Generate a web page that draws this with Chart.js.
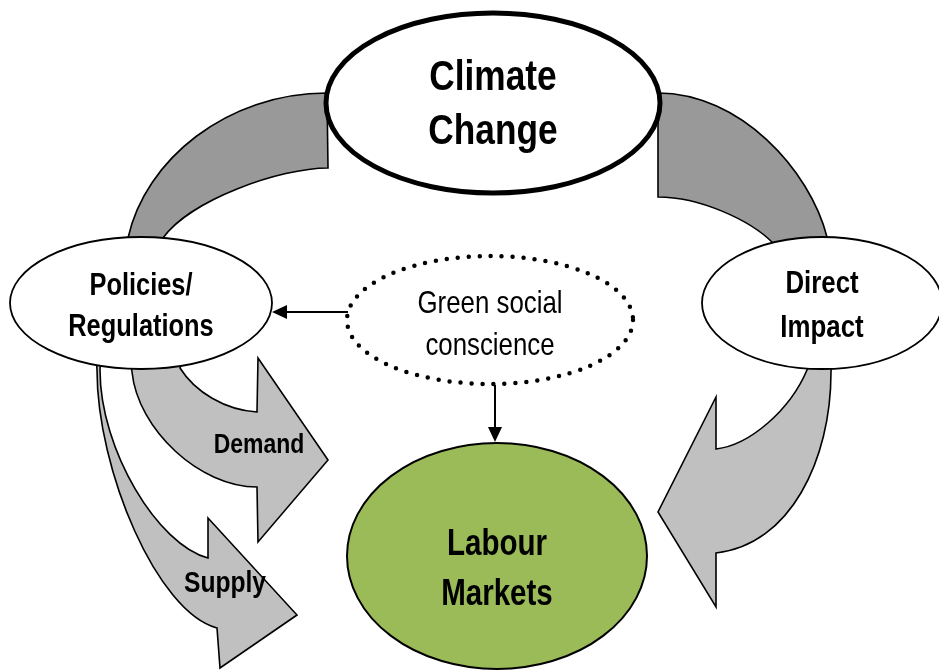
<!DOCTYPE html>
<html>
<head>
<meta charset="utf-8">
<title>Climate change and labour markets</title>
<script src="https://cdn.jsdelivr.net/npm/chart.js@4/dist/chart.umd.min.js"></script>
<style>
  html, body { margin: 0; padding: 0; background: #ffffff; }
  #diagram { display: block; }
</style>
</head>
<body>
<canvas id="diagram" width="939" height="670"></canvas>
<script>
// nodes of the diagram (centres in data units, the scales run 0..939 / 0..670)
const nodeLabels = [
  ['Climate', 'Change'],
  ['Policies/', 'Regulations'],
  ['Green social', 'conscience'],
  ['Direct', 'Impact'],
  ['Labour', 'Markets']
];
const nodeX = [493, 141, 490, 822, 497];
const nodeY = [103, 303, 320, 303, 556];
const flowLabels = ['Demand', 'Supply'];

const NARROW = "'Liberation Sans Narrow', 'Arial Narrow', 'Liberation Sans', Arial, sans-serif";

// look of each node
const nodeStyle = [
  { rx: 167, ry: 90, fill: '#ffffff', line: 5, dash: null, bold: true, size: 43, lines: [90, 144] },
  { rx: 131, ry: 66, fill: '#ffffff', line: 1.8, dash: null, bold: true, size: 31, lines: [295, 336] },
  { rx: 143, ry: 64, fill: '#ffffff', line: 4.5, dash: [0, 11], bold: false, size: 31.5, lines: [313, 355] },
  { rx: 120, ry: 66, fill: '#ffffff', line: 1.8, dash: null, bold: true, size: 31.5, lines: [293, 337] },
  { rx: 150, ry: 113, fill: '#9bbb59', line: 2, dash: null, bold: true, size: 36, lines: [555, 605] }
];

// block arrows, outlined in data units
const bandPaths = [
  { fill: '#999999', d: [
    ['M', 327, 93], ['C', 227, 93, 145, 160, 128, 238], ['L', 124, 256], ['L', 166, 256],
    ['L', 163, 238], ['C', 190, 200, 280, 168, 328, 168], ['Z']] },
  { fill: '#999999', d: [
    ['M', 658, 93], ['C', 740, 93, 810, 170, 827, 237], ['L', 832, 256], ['L', 770, 256],
    ['L', 773, 243], ['C', 750, 220, 700, 197, 658, 197], ['Z']] },
  { fill: '#c0c0c0', d: [
    ['M', 130, 355], ['L', 132, 372], ['C', 138, 430, 200, 487, 257, 487], ['L', 258, 542],
    ['L', 328, 460], ['L', 258, 358], ['L', 257, 412], ['C', 225, 410, 195, 392, 180, 368],
    ['L', 185, 355], ['Z']] },
  { fill: '#c0c0c0', d: [
    ['M', 96, 355], ['L', 97, 370], ['C', 97, 470, 157, 612, 217, 628], ['L', 220, 668],
    ['L', 297, 615], ['L', 208, 518], ['L', 208, 558], ['C', 158, 545, 100, 450, 100, 370],
    ['L', 101, 355], ['Z']] },
  { fill: '#c0c0c0', d: [
    ['M', 832, 355], ['L', 831, 372], ['C', 831, 460, 790, 545, 716, 553], ['L', 716, 607],
    ['L', 658, 512], ['L', 716, 397], ['L', 716, 449], ['C', 750, 445, 790, 410, 807, 370],
    ['L', 810, 355], ['Z']] }
];
const flowLabelPos = [[259, 453], [225, 592]];
const flowLabelSize = [28, 30];

// thin black connectors: from, to
const connectors = [
  [[348, 312], [272, 312]],
  [[495, 385], [495, 442]]
];

// the labels are set in a condensed face; squeeze a regular one if that face is missing
function narrowFactor(ctx) {
  ctx.save();
  ctx.font = `bold 30px ${NARROW}`;
  const a = ctx.measureText('Regulations').width;
  ctx.font = "bold 30px 'Liberation Sans', Arial, sans-serif";
  const b = ctx.measureText('Regulations').width;
  ctx.restore();
  return a / b > 0.95 ? 0.82 : 1;
}

function squeezedText(ctx, text, x, y, k) {
  ctx.save();
  ctx.translate(x, y);
  ctx.scale(k, 1);
  ctx.fillText(text, 0, 0);
  ctx.restore();
}

const diagramPlugin = {
  id: 'diagram',
  afterDatasetsDraw(chart) {
    const ctx = chart.ctx;
    const xs = chart.scales.x;
    const ys = chart.scales.y;
    const px = (v) => xs.getPixelForValue(v);
    const py = (v) => ys.getPixelForValue(v);
    const sx = (v) => Math.abs(xs.getPixelForValue(v) - xs.getPixelForValue(0));
    const sy = (v) => Math.abs(ys.getPixelForValue(v) - ys.getPixelForValue(0));
    const k = narrowFactor(ctx);

    ctx.save();
    ctx.lineJoin = 'miter';

    bandPaths.forEach((band) => {
      ctx.beginPath();
      band.d.forEach((c) => {
        if (c[0] === 'M') ctx.moveTo(px(c[1]), py(c[2]));
        else if (c[0] === 'L') ctx.lineTo(px(c[1]), py(c[2]));
        else if (c[0] === 'C') ctx.bezierCurveTo(px(c[1]), py(c[2]), px(c[3]), py(c[4]), px(c[5]), py(c[6]));
        else ctx.closePath();
      });
      ctx.fillStyle = band.fill;
      ctx.fill();
      ctx.lineWidth = 1.6;
      ctx.strokeStyle = '#000000';
      ctx.stroke();
    });

    const meta = chart.getDatasetMeta(0);
    meta.data.forEach((pt, i) => {
      const st = nodeStyle[i];
      ctx.beginPath();
      ctx.ellipse(pt.x, pt.y, sx(st.rx), sy(st.ry), 0, 0, Math.PI * 2);
      ctx.fillStyle = st.fill;
      ctx.fill();
      ctx.lineWidth = st.line;
      ctx.strokeStyle = '#000000';
      if (st.dash) {
        ctx.setLineDash(st.dash);
        ctx.lineCap = 'round';
      }
      ctx.stroke();
      ctx.setLineDash([]);
      ctx.lineCap = 'butt';
    });

    connectors.forEach(([from, to]) => {
      const x1 = px(from[0]), y1 = py(from[1]);
      const x2 = px(to[0]), y2 = py(to[1]);
      const ang = Math.atan2(y2 - y1, x2 - x1);
      const head = 15;
      const half = 7;
      const bx = x2 - head * Math.cos(ang);
      const by = y2 - head * Math.sin(ang);
      ctx.beginPath();
      ctx.moveTo(x1, y1);
      ctx.lineTo(bx, by);
      ctx.lineWidth = 2;
      ctx.strokeStyle = '#000000';
      ctx.stroke();
      ctx.beginPath();
      ctx.moveTo(x2, y2);
      ctx.lineTo(bx + half * Math.sin(ang), by - half * Math.cos(ang));
      ctx.lineTo(bx - half * Math.sin(ang), by + half * Math.cos(ang));
      ctx.closePath();
      ctx.fillStyle = '#000000';
      ctx.fill();
    });

    ctx.fillStyle = '#000000';
    ctx.textAlign = 'center';
    ctx.textBaseline = 'alphabetic';
    meta.data.forEach((pt, i) => {
      const st = nodeStyle[i];
      ctx.font = `${st.bold ? 'bold ' : ''}${st.size}px ${NARROW}`;
      nodeLabels[i].forEach((line, j) => {
        squeezedText(ctx, line, pt.x, py(st.lines[j]), k);
      });
    });

    flowLabels.forEach((label, i) => {
      ctx.font = `bold ${flowLabelSize[i]}px ${NARROW}`;
      squeezedText(ctx, label, px(flowLabelPos[i][0]), py(flowLabelPos[i][1]), k);
    });
    ctx.restore();
  }
};

new Chart(document.getElementById('diagram'), {
  type: 'scatter',
  data: {
    datasets: [{
      label: 'nodes',
      data: nodeX.map((x, i) => ({ x, y: nodeY[i] })),
      pointRadius: 0,
      pointHoverRadius: 0
    }]
  },
  options: {
    responsive: false,
    animation: false,
    layout: { padding: 0 },
    events: [],
    plugins: {
      legend: { display: false },
      tooltip: { enabled: false }
    },
    scales: {
      x: { type: 'linear', min: 0, max: 939, display: false },
      y: { type: 'linear', min: 0, max: 670, reverse: true, display: false }
    }
  },
  plugins: [diagramPlugin]
});
</script>
</body>
</html>
